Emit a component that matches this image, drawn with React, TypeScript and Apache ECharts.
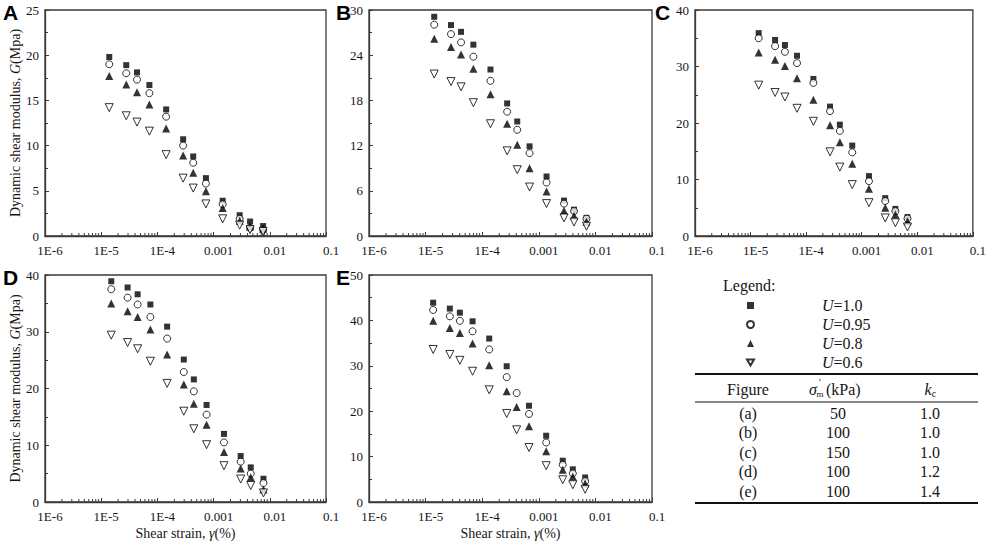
import { useEffect, useRef } from "react";
import * as echarts from "echarts";

// ---------- data ----------
const xTickLabels = ["1E-6", "1E-5", "1E-4", "0.001", "0.01", "0.1"];
const seriesNames = ["U=1.0", "U=0.95", "U=0.8", "U=0.6"];
const panelLetters = ["A", "B", "C", "D", "E"];
const yMax = [25, 30, 40, 40, 50];
const yInterval = [5, 6, 10, 10, 10];

const strainA = [1.39e-5, 2.79e-5, 4.34e-5, 7.2e-5, 1.43e-4, 2.87e-4, 4.34e-4, 7.3e-4, 1.45e-3, 2.91e-3, 4.46e-3, 7.6e-3];
const strainB = [1.42e-5, 2.81e-5, 4.23e-5, 6.98e-5, 1.4e-4, 2.76e-4, 4.16e-4, 6.87e-4, 1.37e-3, 2.79e-3, 4.19e-3, 6.95e-3];
const strainC = [1.4e-5, 2.76e-5, 4.15e-5, 6.85e-5, 1.35e-4, 2.69e-4, 4.04e-4, 6.75e-4, 1.35e-3, 2.65e-3, 4.03e-3, 6.66e-3];
const strainD = [1.51e-5, 2.95e-5, 4.45e-5, 7.5e-5, 1.49e-4, 2.95e-4, 4.45e-4, 7.5e-4, 1.53e-3, 3.03e-3, 4.58e-3, 7.71e-3];
const strainE = [1.36e-5, 2.68e-5, 4.03e-5, 6.76e-5, 1.33e-4, 2.71e-4, 4.06e-4, 6.72e-4, 1.35e-3, 2.65e-3, 3.99e-3, 6.59e-3];

const gA_U100 = [19.8, 18.9, 18.1, 16.7, 14.0, 10.7, 8.8, 6.4, 3.9, 2.3, 1.6, 1.1];
const gA_U095 = [19.0, 18.0, 17.3, 15.8, 13.2, 10.0, 8.1, 5.8, 3.5, 1.9, 0.9, 0.7];
const gA_U080 = [17.7, 16.75, 15.9, 14.55, 11.9, 8.9, 7.0, 4.95, 3.1, 1.7, 1.05, 0.8];
const gA_U060 = [14.2, 13.3, 12.6, 11.6, 9.0, 6.4, 5.3, 3.55, 1.9, 1.2, 0.7, 0.5];

const gB_U100 = [29.1, 28.0, 27.1, 25.4, 22.1, 17.6, 15.2, 11.9, 7.9, 4.7, 3.5, 2.4];
const gB_U095 = [28.05, 26.8, 25.7, 23.8, 20.6, 16.5, 14.1, 11.0, 7.1, 4.3, 3.3, 2.3];
const gB_U080 = [26.2, 25.1, 24.1, 22.2, 18.8, 14.9, 12.1, 9.0, 5.9, 3.35, 2.7, 1.9];
const gB_U060 = [21.5, 20.5, 19.8, 17.7, 14.9, 11.3, 8.8, 6.5, 4.3, 2.4, 1.85, 1.3];

const gC_U100 = [35.9, 34.7, 33.8, 31.9, 27.8, 22.9, 19.7, 16.0, 10.6, 6.7, 4.8, 3.35];
const gC_U095 = [35.0, 33.6, 32.6, 30.6, 27.1, 22.1, 18.6, 14.8, 9.7, 6.2, 4.4, 3.1];
const gC_U080 = [32.5, 31.2, 30.1, 27.9, 24.1, 19.6, 16.6, 12.8, 8.35, 5.0, 3.8, 2.6];
const gC_U060 = [26.7, 25.4, 24.6, 22.6, 20.3, 14.9, 12.2, 9.1, 5.9, 3.2, 2.35, 1.6];

const gD_U100 = [38.9, 37.8, 36.6, 34.8, 30.9, 25.1, 21.6, 17.1, 12.0, 8.1, 6.1, 4.1];
const gD_U095 = [37.5, 36.0, 34.8, 32.6, 28.8, 22.9, 19.5, 15.4, 10.5, 7.1, 5.0, 3.35];
const gD_U080 = [35.0, 33.6, 32.6, 30.4, 26.0, 20.7, 17.3, 13.6, 8.8, 5.9, 4.35, 2.2];
const gD_U060 = [29.4, 28.1, 27.0, 24.8, 20.9, 16.0, 12.9, 10.1, 6.4, 4.05, 2.9, 1.6];

const gE_U100 = [43.9, 42.6, 41.7, 39.8, 36.0, 29.9, null, 21.2, 14.6, 9.1, 7.2, 5.4];
const gE_U095 = [42.3, 40.9, 39.9, 37.6, 33.6, 27.5, 24.0, 19.4, 13.1, 8.2, 6.3, 4.6];
const gE_U080 = [39.9, 38.3, 37.2, 34.9, 30.1, 24.4, 20.9, 16.7, 11.2, 7.1, 5.6, 4.1];
const gE_U060 = [33.6, 32.5, 31.2, 28.8, 24.7, 19.5, 15.9, 12.0, 8.0, 4.9, 3.8, 2.8];

const tableFigures = ["(a)", "(b)", "(c)", "(d)", "(e)"];
const tableSigma = ["50", "100", "150", "100", "100"];
const tableKc = ["1.0", "1.0", "1.0", "1.2", "1.4"];

const minorMultipliers = [2, 3, 4, 5, 6, 7, 8, 9];
const decades = [1e-6, 1e-5, 1e-4, 1e-3, 1e-2];

// ---------- assembly ----------
const panelStrains = [strainA, strainB, strainC, strainD, strainE];
const panelG = [
  [gA_U100, gA_U095, gA_U080, gA_U060],
  [gB_U100, gB_U095, gB_U080, gB_U060],
  [gC_U100, gC_U095, gC_U080, gC_U060],
  [gD_U100, gD_U095, gD_U080, gD_U060],
  [gE_U100, gE_U095, gE_U080, gE_U060],
];

const SERIF = "'Liberation Serif', 'Times New Roman', serif";
const SANS = "'Liberation Sans', Arial, sans-serif";
const AXC = "#3a3a3a";
const TXT = "#151515";

const grids = [
  { left: 45, top: 10, width: 281, height: 226 },
  { left: 369, top: 10, width: 283, height: 226 },
  { left: 695, top: 10, width: 283, height: 226 },
  { left: 45, top: 275, width: 281, height: 227 },
  { left: 369, top: 275, width: 283, height: 227 },
];
const letterPos = [
  [3, 2],
  [336, 2],
  [655, 2],
  [3, 267],
  [336, 267],
];

const symbolDefs: any[] = [
  { symbol: "rect", symbolSize: 6, symbolRotate: 0, itemStyle: { color: "#000" } },
  { symbol: "circle", symbolSize: 7, symbolRotate: 0, itemStyle: { color: "#fff", borderColor: "#000", borderWidth: 1 } },
  { symbol: "triangle", symbolSize: 8, symbolRotate: 0, itemStyle: { color: "#000" } },
  { symbol: "triangle", symbolSize: 8, symbolRotate: 180, itemStyle: { color: "#fff", borderColor: "#000", borderWidth: 1 } },
];
const legendIcons = ["rect", "circle", "triangle", "path://M0,0L10,0L5,8.66Z"];

function xLabel(v: number) {
  const i = Math.round(Math.log10(v)) + 6;
  return xTickLabels[i] ?? "";
}

function buildOption() {
  const minorTicks: number[] = [];
  decades.forEach((d) => minorMultipliers.forEach((m) => minorTicks.push(m * d)));

  const xAxis: any[] = [];
  const yAxis: any[] = [];
  const series: any[] = [];

  grids.forEach((_, i) => {
    xAxis.push({
      type: "log",
      logBase: 10,
      gridIndex: i,
      min: 1e-6,
      max: 0.1,
      splitNumber: 5,
      axisLine: { show: true, lineStyle: { color: AXC, width: 1.3 } },
      axisTick: { show: true, inside: true, length: 4, lineStyle: { color: AXC, width: 1 } },
      axisLabel: {
        formatter: xLabel,
        fontFamily: SERIF,
        fontSize: 13,
        color: TXT,
        margin: 8,
        padding: [0, 0, 0, 10],
        showMinLabel: true,
        showMaxLabel: true,
      },
      splitLine: { show: false },
      ...(i >= 3
        ? {
            name: "Shear strain, {i|γ}(%)",
            nameLocation: "middle",
            nameGap: 24,
            nameTextStyle: {
              fontFamily: SERIF,
              fontSize: 14,
              color: TXT,
              rich: { i: { fontFamily: SERIF, fontSize: 14, fontStyle: "italic", color: TXT } },
            },
          }
        : {}),
    });
    yAxis.push({
      type: "value",
      gridIndex: i,
      min: 0,
      max: yMax[i],
      interval: yInterval[i],
      axisLine: { show: true, lineStyle: { color: AXC, width: 1.3 } },
      axisTick: { show: true, inside: true, length: 4, lineStyle: { color: AXC, width: 1 } },
      minorTick: { show: true, splitNumber: 2, length: 3, lineStyle: { color: AXC, width: 1 } },
      axisLabel: { fontFamily: SERIF, fontSize: 13, color: TXT, margin: 6 },
      splitLine: { show: false },
      ...(i === 0 || i === 3
        ? {
            name: "Dynamic shear modulus, {i|G}(Mpa)",
            nameLocation: "middle",
            nameGap: 23,
            nameTextStyle: {
              fontFamily: SERIF,
              fontSize: 14,
              color: TXT,
              rich: { i: { fontFamily: SERIF, fontSize: 14, fontStyle: "italic", color: TXT } },
            },
          }
        : {}),
    });

    panelG[i].forEach((vals, s) => {
      const pts: any[] = [];
      vals.forEach((g, k) => {
        if (g !== null && g !== undefined) pts.push([panelStrains[i][k], g]);
      });
      series.push({
        type: "scatter",
        name: seriesNames[s],
        xAxisIndex: i,
        yAxisIndex: i,
        data: pts,
        ...symbolDefs[s],
        z: 5 + s,
      });
    });

    series.push({
      type: "custom",
      name: "minor-" + i,
      xAxisIndex: i,
      yAxisIndex: i,
      silent: true,
      z: 3,
      data: minorTicks.map((v) => [v, 0]),
      renderItem: (_p: any, api: any) => {
        const p = api.coord([api.value(0), api.value(1)]);
        return {
          type: "line",
          shape: { x1: p[0], y1: p[1], x2: p[0], y2: p[1] - 3 },
          style: { stroke: AXC, lineWidth: 1 },
        };
      },
    });
  });

  const graphic: any[] = [];
  panelLetters.forEach((l, i) => {
    graphic.push({
      type: "text",
      x: letterPos[i][0],
      y: letterPos[i][1],
      style: { text: l, fontFamily: SANS, fontWeight: "bold", fontSize: 21, fill: "#000", align: "left", verticalAlign: "top" },
    });
  });

  const txt = (text: string, x: number, y: number, extra: any = {}) => ({
    type: "text",
    x,
    y,
    style: {
      text,
      fontFamily: SERIF,
      fontSize: 16,
      fill: TXT,
      align: "center",
      verticalAlign: "middle",
      ...extra,
    },
  });

  graphic.push(txt("Legend:", 723, 285, { align: "left" }));

  // table rules
  graphic.push({ type: "line", shape: { x1: 695, y1: 374, x2: 978, y2: 374 }, style: { stroke: "#111", lineWidth: 2 } });
  graphic.push({ type: "line", shape: { x1: 695, y1: 402, x2: 978, y2: 402 }, style: { stroke: "#111", lineWidth: 1 } });
  graphic.push({ type: "line", shape: { x1: 695, y1: 503, x2: 978, y2: 503 }, style: { stroke: "#111", lineWidth: 2 } });

  // header
  graphic.push(txt("Figure", 748, 389));
  graphic.push(txt("σ", 813, 389, { fontStyle: "italic" }));
  graphic.push(txt("′", 820, 382, { fontSize: 11 }));
  graphic.push(txt("m", 820, 394, { fontSize: 9 }));
  graphic.push(txt("(kPa)", 826, 389, { align: "left" }));
  graphic.push(txt("k", 928, 389, { fontStyle: "italic" }));
  graphic.push(txt("c", 934, 393, { fontSize: 10 }));

  tableFigures.forEach((f, r) => {
    const y = 413 + r * 19.5;
    graphic.push(txt(f, 748, y));
    graphic.push(txt(tableSigma[r], 838, y));
    graphic.push(txt(tableKc[r], 930, y));
  });

  return {
    animation: false,
    backgroundColor: "#fff",
    grid: grids.map((g) => ({ ...g, show: true, borderColor: AXC, borderWidth: 1.3, backgroundColor: "transparent", containLabel: false })),
    xAxis,
    yAxis,
    legend: {
      data: seriesNames.map((n, k) => ({ name: n, icon: legendIcons[k] })),
      orient: "vertical",
      left: 741,
      top: 291,
      itemWidth: 7,
      itemHeight: 7,
      itemGap: 0,
      selectedMode: false,
      formatter: (name: string) => `{g|}{i|U}{n|${name.slice(1)}}`,
      textStyle: {
        fontFamily: SERIF,
        fontSize: 16,
        color: TXT,
        lineHeight: 19,
        rich: {
          g: { width: 63, lineHeight: 19 },
          i: { fontFamily: SERIF, fontSize: 16, fontStyle: "italic", color: TXT, lineHeight: 19 },
          n: { fontFamily: SERIF, fontSize: 16, color: TXT, lineHeight: 19 },
        },
      },
    },
    series,
    graphic,
  };
}

export default function App() {
  const ref = useRef<HTMLDivElement>(null);
  useEffect(() => {
    document.body.style.margin = "0";
    if (!ref.current) return;
    const chart = echarts.init(ref.current, undefined, { renderer: "svg" });
    chart.setOption(buildOption() as any);
    return () => chart.dispose();
  }, []);
  return <div ref={ref} style={{ width: 989, height: 541 }} />;
}
